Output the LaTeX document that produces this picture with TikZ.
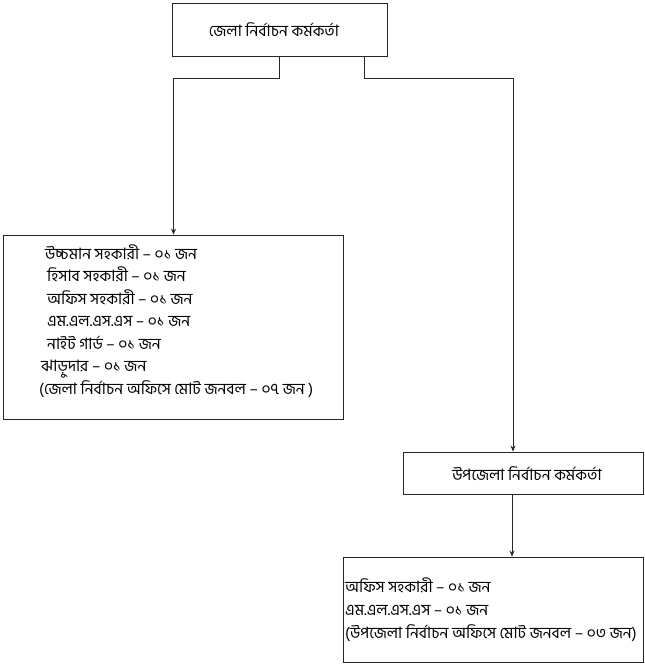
\documentclass[tikz,border=0pt]{standalone}
\usepackage{fontspec}
\newfontfamily\bn[Script=Bengali]{Hind Siliguri}
\usetikzlibrary{arrows.meta}
\begin{document}
\begin{tikzpicture}[x=1pt,y=-1pt,
  box/.style={draw=black!85,line width=0.9pt,rectangle,inner sep=0pt},
  txt/.style={anchor=base west,inner sep=0pt,font=\bn\fontsize{15.7}{17}\selectfont},
  ctxt/.style={anchor=center,inner sep=0pt,font=\bn\fontsize{15.7}{17}\selectfont},
  arr/.style={draw=black!85,line width=0.9pt,-{Stealth[length=6pt,width=5pt]}},
  ln/.style={draw=black!85,line width=0.9pt}]
\useasboundingbox (0,0) rectangle (645,664);
\node[box,minimum width=215pt,minimum height=53pt] (top) at (280,29.5) {};
\node[ctxt] (toptxt) at (274,30) {জেলা নির্বাচন কর্মকর্তা};
\node[box,minimum width=340pt,minimum height=184pt] (left) at (173.5,327) {};
\node[txt] (l1) at (45,259) {উচ্চমান সহকারী – ০১ জন};
\node[txt] (l2) at (47,281) {হিসাব সহকারী – ০১ জন};
\node[txt] (l3) at (47,304) {অফিস সহকারী – ০১ জন};
\node[txt] (l4) at (47,326) {এম.এল.এস.এস – ০১ জন};
\node[txt] (l5) at (47,349) {নাইট গার্ড – ০১ জন};
\node[txt] (l6) at (41,371) {ঝাড়ুদার – ০১ জন};
\node[txt] (l7) at (39,394) {(জেলা নির্বাচন অফিসে মোট জনবল – ০৭ জন )};
\node[box,minimum width=240pt,minimum height=42pt] (upz) at (523,473) {};
\node[ctxt] (upztxt) at (527,474) {উপজেলা নির্বাচন কর্মকর্তা};
\node[box,minimum width=300pt,minimum height=105pt] (bot) at (493,609.5) {};
\node[txt] (b1) at (345,592) {অফিস সহকারী – ০১ জন};
\node[txt] (b2) at (345,615) {এম.এল.এস.এস – ০১ জন};
\node[txt] (b3) at (345,638) {(উপজেলা নির্বাচন অফিসে মোট জনবল – ০৩ জন)};
\draw[arr] ([xshift=-1pt]top.south) -- ++(0,22) -| (left.north);
\draw[arr] ([xshift=84pt]top.south) -- ++(0,22) -| ([xshift=-10pt]upz.north);
\draw[arr] ([xshift=-11pt]upz.south) -- ([xshift=-11pt]upz.south |- bot.north);
\end{tikzpicture}
\end{document}
